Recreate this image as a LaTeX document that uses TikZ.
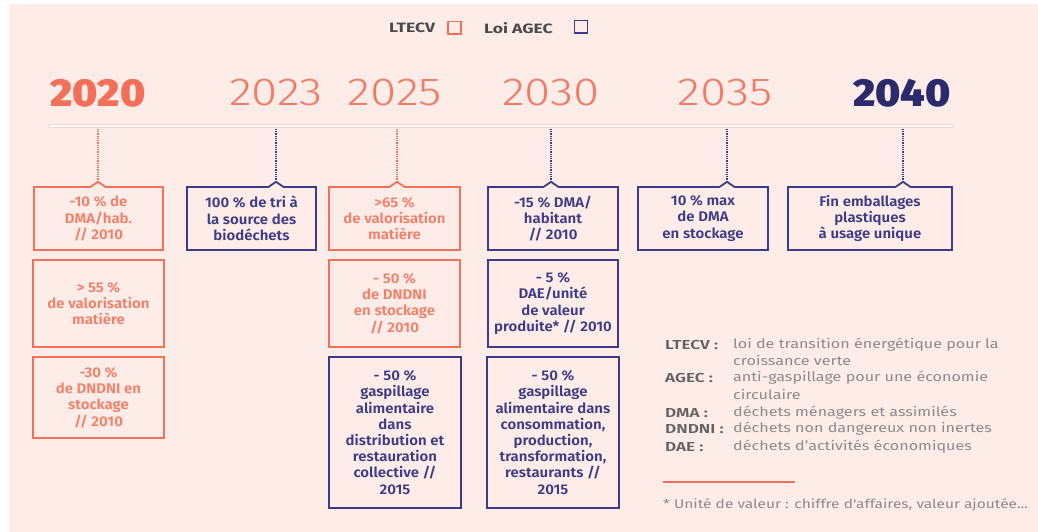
\documentclass[tikz,border=0pt]{standalone}
\usepackage{fontspec}
\setmainfont{Fira Sans}
\newfontfamily\lightf{Fira Sans Light}[FakeStretch=1.22]
\newfontfamily\semif{Fira Sans SemiBold}[FakeStretch=1.07]
\newfontfamily\heavyf{Fira Sans Black}[FakeStretch=1.08]
\newfontfamily\legf{Fira Sans Bold}[FakeStretch=1.3]
\newfontfamily\labf{Fira Sans SemiBold}[FakeStretch=1.32]
\newfontfamily\descf{Fira Sans}[FakeStretch=1.24]
\definecolor{bg}{HTML}{FDECE8}
\definecolor{orng}{HTML}{F2705A}
\definecolor{orngtxt}{HTML}{F47E66}
\definecolor{yearo}{HTML}{F37A62}
\definecolor{navy}{HTML}{3D3B87}
\definecolor{navydark}{HTML}{2B2A6C}
\definecolor{gtxt}{HTML}{8E8A8A}
\definecolor{glab}{HTML}{666262}
\definecolor{tlrim}{HTML}{F7D3CA}
\tikzset{
  box/.style={draw, line width=1.8pt, inner sep=0pt, align=center,
    font=\semif\fontsize{14}{16.2}\selectfont},
  obox/.style={box, draw=orng, text=orngtxt},
  nbox/.style={box, draw=navy, text=navy},
  yearthin/.style={font=\lightf\fontsize{39}{40}\selectfont, text=yearo, inner sep=0pt},
  yearbold/.style={font=\heavyf\fontsize{39}{40}\selectfont, inner sep=0pt},
  dots/.style={line width=1.3pt, dash pattern=on 1pt off 0.8pt},
  lab/.style={anchor=west, inner sep=0pt, text=glab, font=\labf\fontsize{13}{15}\selectfont},
  desc/.style={anchor=west, inner sep=0pt, text=gtxt, font=\descf\fontsize{13}{15}\selectfont},
  legtxt/.style={anchor=west, inner sep=0pt, text=glab!75!black, font=\legf\fontsize{13.5}{15}\selectfont},
}
\def\mynotch#1#2#3{%
  \fill[bg] (#1-6.8,185.6) rectangle (#1+6.8,188.4);
  \draw[#2, line width=1.8pt, line join=round] (#1-7.6,187) -- (#1,181.8) -- (#1+7.6,187);
  \coordinate (#3) at (#1,181.8);
}
\begin{document}
\begin{tikzpicture}[x=1pt,y=-1pt]
\useasboundingbox (0,0) rectangle (1038,532);
\fill[white] (0,0) rectangle (1038,532);
\fill[bg] (9,4) rectangle (1038,532);

% top legend
\node[legtxt] (lgL) at (389,28) {LTECV};
\draw[orng, line width=1.8pt] (448,21.5) rectangle (461,34);
\node[legtxt] (lgA) at (484,28) {Loi AGEC};
\draw[navy, line width=1.8pt] (574.5,20.5) rectangle (587.5,33);

% years
\node[yearbold, text=orng] (y2020) at (98,93) {2020};
\node[yearthin] (y2023) at (276,93) {2023};
\node[yearthin] (y2025) at (395,93) {2025};
\node[yearthin] (y2030) at (551,93) {2030};
\node[yearthin] (y2035) at (725,93) {2035};
\node[yearbold, text=navydark] (y2040) at (902,93) {2040};

% timeline
\draw[tlrim, line width=4.2pt, line cap=round] (50,126) -- (952,126);
\draw[white, line width=2.6pt, line cap=round] (50,126) -- (952,126);
\coordinate (t1) at (98,129);
\coordinate (t2) at (276,129);
\coordinate (t3) at (397,129);
\coordinate (t4) at (551,129);
\coordinate (t5) at (727,129);
\coordinate (t6) at (903,129);

% boxes
\node[obox, minimum width=129, minimum height=63] (c1a) at (98.5,218.5) {-10 \% de\\DMA/hab.\\// 2010};
\node[obox, minimum width=131, minimum height=87] (c1b) at (98.5,303.5) {> 55 \%\\de valorisation\\matière};
\node[obox, minimum width=131, minimum height=81] (c1c) at (98.5,397.5) {-30 \%\\de DNDNI en\\stockage\\// 2010};
\node[nbox, minimum width=129, minimum height=63] (c2a) at (251.5,218.5) {100 \% de tri à\\la source des\\biodéchets};
\node[obox, minimum width=131, minimum height=63] (c3a) at (394.5,218.5) {>65 \%\\de valorisation\\matière};
\node[obox, minimum width=131, minimum height=87] (c3b) at (394.5,303.5) {- 50 \%\\de DNDNI\\en stockage\\// 2010};
\node[nbox, minimum width=132, minimum height=151] (c3c) at (395,432.5) {- 50 \%\\gaspillage\\alimentaire\\dans\\distribution et\\restauration\\collective //\\2015};
\node[nbox, minimum width=130, minimum height=63] (c4a) at (553,218.5) {-15 \% DMA/\\habitant\\// 2010};
\node[nbox, minimum width=130, minimum height=87] (c4b) at (553,303.5) {- 5 \%\\DAE/unité\\de valeur\\produite* // 2010};
\node[nbox, minimum width=132, minimum height=151] (c4c) at (553,432.5) {- 50 \%\\gaspillage\\alimentaire dans\\consommation,\\production,\\transformation,\\restaurants //\\2015};
\node[nbox, minimum width=130, minimum height=63] (c5a) at (703,218.5) {10 \% max\\de DMA\\en stockage};
\node[nbox, minimum width=164, minimum height=63] (c6a) at (870,218.5) {Fin emballages\\plastiques\\à usage unique};

% notches
\mynotch{98}{orng}{n1}
\mynotch{276}{navy}{n2}
\mynotch{397}{orng}{n3}
\mynotch{551}{navy}{n4}
\mynotch{727}{navy}{n5}
\mynotch{903}{navy}{n6}

% dotted connectors
\draw[dots, orng] (t1) -- (n1);
\draw[dots, navy] (t2) -- (n2);
\draw[dots, orng] (t3) -- (n3);
\draw[dots, navy] (t4) -- (n4);
\draw[dots, navy] (t5) -- (n5);
\draw[dots, navy] (t6) -- (n6);

% glossary
\node[lab] (g1) at (665,345) {LTECV :};
\node[desc] (d1) at (733,345) {loi de transition énergétique pour la};
\node[desc] (d1b) at (733,361) {croissance verte};
\node[lab] (g2) at (665,378) {AGEC :};
\node[desc] (d2) at (733,378) {anti-gaspillage pour une économie};
\node[desc] (d2b) at (733,395) {circulaire};
\node[lab] (g3) at (665,413) {DMA :};
\node[desc] (d3) at (733,413) {déchets ménagers et assimilés};
\node[lab] (g4) at (665,429) {DNDNI :};
\node[desc] (d4) at (733,429) {déchets non dangereux non inertes};
\node[lab] (g5) at (665,447) {DAE :};
\node[desc] (d5) at (733,447) {déchets d’activités économiques};

\coordinate (r1) at (663,482);
\coordinate (r2) at (795,482);
\draw[orng, line width=1.5pt] (r1) -- (r2);
\node[desc, font=\descf\fontsize{12.5}{14}\selectfont] (foot) at (663,505) {* Unité de valeur : chiffre d'affaires, valeur ajoutée...};
\end{tikzpicture}
\end{document}
